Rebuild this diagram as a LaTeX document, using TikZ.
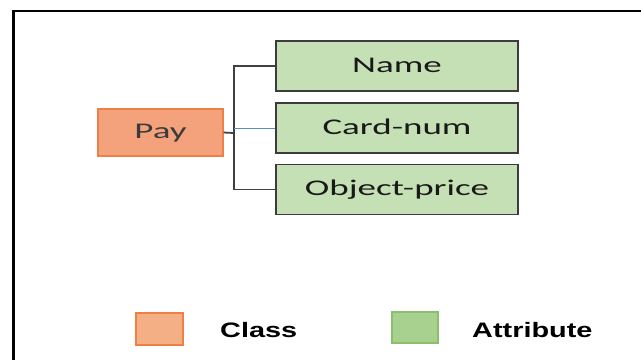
\documentclass[tikz,border=0pt]{standalone}
\usepackage{fontspec}
\newfontfamily\boxfont[FakeStretch=1.65]{Carlito}
\newfontfamily\legfont[FakeStretch=1.38]{Liberation Sans}
\usetikzlibrary{calc}
\definecolor{classfill}{RGB}{243,162,124}
\definecolor{classedge}{RGB}{238,128,70}
\definecolor{attrfill}{RGB}{197,224,180}
\definecolor{attredge}{RGB}{60,60,60}
\definecolor{legclass}{RGB}{244,176,132}
\definecolor{legattr}{RGB}{168,208,142}
\definecolor{legattredge}{RGB}{140,190,110}
\definecolor{wire}{RGB}{64,64,64}
\definecolor{bluewire}{RGB}{91,140,200}
\definecolor{boxtext}{RGB}{25,25,25}
\tikzset{
  attrbox/.style={draw=attredge, fill=attrfill, line width=1.8pt,
    minimum width=242bp, minimum height=50bp, inner sep=0pt,
    font=\boxfont\fontsize{22.5}{24}\selectfont, text=boxtext,
    text height=14.5bp, text depth=2bp},
  classbox/.style={draw=classedge, fill=classfill, line width=1.4pt,
    minimum width=125bp, minimum height=47bp, inner sep=0pt,
    font=\boxfont\fontsize{22.5}{24}\selectfont, text=boxtext!85!white,
    text height=14.5bp, text depth=2bp},
  conn/.style={draw=wire, line width=1.8pt},
  blueconn/.style={draw=bluewire, line width=1pt},
  legtext/.style={font=\legfont\bfseries\fontsize{21}{23}\selectfont,
    anchor=base west, inner sep=0pt, text=black},
}
\begin{document}
\begin{tikzpicture}[x=1bp,y=-1bp]
\useasboundingbox (0,0) rectangle (641,360);
\fill[white] (0,0) rectangle (641,360);
% outer frame, open at the right and bottom
\draw[line width=3bp] (13.5,360) -- (13.5,10.5);
\draw[line width=2bp] (12,10.5) -- (641,10.5);

% class and its attributes
\node[classbox] (pay) at (160.5,132.5) {Pay};
\node[attrbox] (name) at (397,66) {Name};
\node[attrbox] (card) at (397,128) {Card-num};
\node[attrbox] (obj) at (397,189.5) {Object-price};

% connectors
\coordinate (jn) at (234,133);
\draw[conn] (name.west) -| (jn) |- (obj.west);
\draw[conn] (pay.east) -- (jn);
\draw[blueconn] (card.west) -- (card.west -| jn);

% legend
\node[draw=classedge, fill=legclass, line width=1.2pt, minimum width=47bp,
  minimum height=32bp, inner sep=0pt] (lc) at (159.5,329) {};
\node[legtext] (lct) at (220,337) {Class};
\node[draw=legattredge, fill=legattr, line width=1.2pt, minimum width=46bp,
  minimum height=31bp, inner sep=0pt] (la) at (415,327.5) {};
\node[legtext] (lat) at (472,337) {Attribute};
\end{tikzpicture}
\end{document}
